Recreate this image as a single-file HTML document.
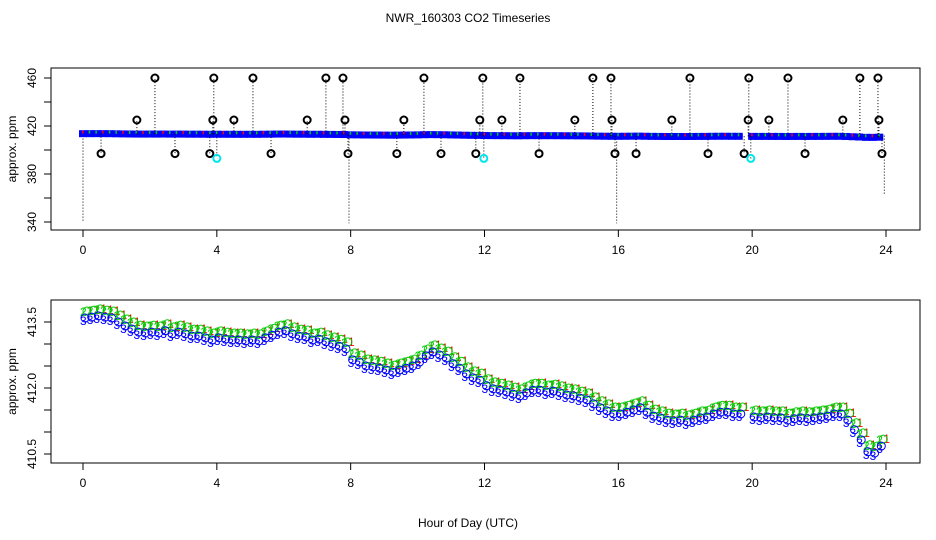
<!DOCTYPE html>
<html><head><meta charset="utf-8"><style>
body{margin:0;background:#fff}
svg{display:block;font-family:"Liberation Sans",sans-serif}
</style></head><body>
<svg id="chart" width="936" height="540" viewBox="0 0 936 540">
<rect width="936" height="540" fill="#fff"/>
<text x="468" y="22" font-size="12" text-anchor="middle">NWR_160303  CO2 Timeseries</text>
<g id="topPanel"></g><g id="botPanel"></g>
<text x="468" y="527" font-size="12" text-anchor="middle">Hour of Day (UTC)</text>
</svg>
<script>
const hours=[0,0.2,0.4,0.6,0.8,1,1.2,1.4,1.6,1.8,2,2.2,2.4,2.6,2.8,3,3.2,3.4,3.6,3.8,4,4.2,4.4,4.6,4.8,5,5.2,5.4,5.6,5.8,6,6.2,6.4,6.6,6.8,7,7.2,7.4,7.6,7.8,
8,8.2,8.4,8.6,8.8,9,9.2,9.4,9.6,9.8,10,10.2,10.4,10.6,10.8,11,11.2,11.4,11.6,11.8,
12,12.2,12.4,12.6,12.8,13,13.2,13.4,13.6,13.8,14,14.2,14.4,14.6,14.8,15,15.2,15.4,15.6,15.8,
16,16.2,16.4,16.6,16.8,17,17.2,17.4,17.6,17.8,18,18.2,18.4,18.6,18.8,19,19.2,19.4,19.6,
20,20.2,20.4,20.6,20.8,21,21.2,21.4,21.6,21.8,22,22.2,22.4,22.6,22.8,23,23.2,23.4,23.6,23.8];
const co2=[413.59,413.61,413.64,413.61,413.59,413.5,413.41,413.34,413.27,413.25,413.27,413.25,413.30,413.23,413.27,413.23,413.18,413.18,413.14,413.09,413.14,413.11,413.09,413.09,413.07,413.09,413.07,413.14,413.20,413.27,413.30,413.23,413.18,413.16,413.09,413.11,413.05,413.0,412.95,412.89,
412.64,412.59,412.5,412.48,412.45,412.41,412.36,412.41,412.45,412.5,412.59,412.73,412.82,412.75,412.68,412.55,412.45,412.32,412.23,412.18,
412.05,411.98,411.95,411.91,411.86,411.82,411.89,411.95,411.95,411.91,411.93,411.89,411.84,411.82,411.77,411.73,411.64,411.55,411.48,411.41,
411.41,411.45,411.5,411.55,411.45,411.36,411.32,411.27,411.25,411.27,411.23,411.27,411.32,411.34,411.41,411.45,411.45,411.41,411.41,
411.34,411.32,411.34,411.32,411.32,411.27,411.30,411.32,411.30,411.32,411.34,411.36,411.41,411.41,411.27,411.05,410.82,410.55,410.52,410.68];
const highH=[2.15,3.91,5.08,7.26,7.77,10.19,11.95,13.06,15.24,15.78,18.14,19.9,21.07,23.22,23.76];
const highV=[460,460,460,460,460,460,460,460,460,460,460,460,460,460,460];
const midH=[1.61,3.88,4.51,6.7,7.83,9.59,11.86,12.52,14.7,15.81,17.6,19.88,20.5,22.71,23.79];
const midV=[425,425,425,425,425,425,425,425,425,425,425,425,425,425,425];
const lowH=[0.54,2.75,3.79,5.62,7.92,9.38,10.7,11.74,13.63,15.9,16.53,18.68,19.76,21.58,23.88];
const lowV=[397,397,397,397,397,397,397,397,397,397,397,397,397,397,397];
const cyanH=[4.0,11.98,19.96];
const cyanV=[393,393,393];
const spikeH=[0,7.95,15.95,23.95];
const spikeV=[340,339,339,362];
const xTicks=[0,4,8,12,16,20,24];
const topTicks=[340,360,380,400,420,440,460];
const topLabels=["340","","380","","420","","460"];
const botTicks=[410.5,411,411.5,412,412.5,413,413.5];
const botLabels=["410.5","","","412.0","","","413.5"];

const NS="http://www.w3.org/2000/svg";
function mk(tag,attrs,parent){const e=document.createElementNS(NS,tag);for(const k in attrs)e.setAttribute(k,attrs[k]);parent.appendChild(e);return e;}
const X=h=>83+h*33.458;
const Yt=v=>126-(v-420)*1.2;
const Yb=v=>322+(413.5-v)*44;
const topG=document.getElementById('topPanel'),botG=document.getElementById('botPanel');

function frame(g,y0,y1,ticks,labels,Y,name){
  const r=mk('rect',{x:51,y:y0,width:869,height:y1-y0,fill:'none',stroke:'#000','stroke-width':1},g);
  
  
  xTicks.forEach(t=>{
    mk('line',{x1:X(t),x2:X(t),y1:y1,y2:y1+7,stroke:'#000'},g);
    const tx=mk('text',{x:X(t),y:y1+24,'font-size':12,'text-anchor':'middle'},g);tx.textContent=t;
    
    
  });
  ticks.forEach((t,i)=>{
    mk('line',{x1:44,x2:51,y1:Y(t),y2:Y(t),stroke:'#000'},g);
    if(labels[i]){const tx=mk('text',{x:0,y:0,'font-size':12,'text-anchor':'middle',transform:`translate(36,${Y(t)}) rotate(-90)`},g);tx.textContent=labels[i];
    
    }
  });
  const yl=mk('text',{x:0,y:0,'font-size':12,'text-anchor':'middle',transform:`translate(16,${(y0+y1)/2}) rotate(-90)`},g);yl.textContent='approx. ppm';
  
  
}
frame(topG,68,230,topTicks,topLabels,Yt,'top');
frame(botG,300,463,botTicks,botLabels,Yb,'bottom');

spikeH.forEach((h,i)=>{const l=mk('line',{x1:X(h),x2:X(h),y1:Yt(412),y2:Yt(spikeV[i]),stroke:'#000','stroke-dasharray':'1,2'},topG);

});
function outliers(H,V,col,name){H.forEach((h,i)=>{
  const bi=hours.reduce((b,hh,j)=>Math.abs(hh-h)<Math.abs(hours[b]-h)?j:b,0);
  mk('line',{x1:X(h),x2:X(h),y1:Yt(co2[bi]),y2:Yt(V[i]),stroke:'#000','stroke-dasharray':'1,2'},topG);
  const c=mk('circle',{cx:X(h),cy:Yt(V[i]),r:3.5,fill:'none',stroke:col,'stroke-width':2},topG);
  
  
});}
for(let i=0;i<hours.length;i++){
  const x=X(hours[i]);
  const c=mk('rect',{x:x-4,y:Yt(co2[i])-3.5,width:8,height:7,fill:'#0000ff'},topG);
  
  
  mk('rect',{x:x-1,y:Yt(co2[i])-3,width:1.5,height:3,fill:i%3?'#00cc00':'#ff0000'},topG);
}
outliers(highH,highV,'#000','outlier-high');
outliers(midH,midV,'#000','outlier-mid');
outliers(lowH,lowV,'#000','outlier-low');
outliers(cyanH,cyanV,'#00e5ee','outlier-cyan');

for(let i=0;i<hours.length;i++){
  const x=X(hours[i]),y=Yb(co2[i]);
  const r=mk('text',{x:x+4,y:y-3,'font-size':12,fill:'#ff0000'},botG);r.textContent='1';
  
  
  const g=mk('text',{x:x-3,y:y-2,'font-size':12,fill:'#00cc00'},botG);g.textContent='2';
  
  
  mk('circle',{cx:x+4,cy:y-7,r:4,fill:'none',stroke:'#00cc00','stroke-width':1},botG);
  mk('circle',{cx:x+2,cy:y,r:4,fill:'none',stroke:'#0000ff','stroke-width':1},botG);
  const b=mk('text',{x:x-3,y:y+7,'font-size':12,fill:'#0000ff'},botG);b.textContent='3';
  
  
}
</script>
</body></html>
